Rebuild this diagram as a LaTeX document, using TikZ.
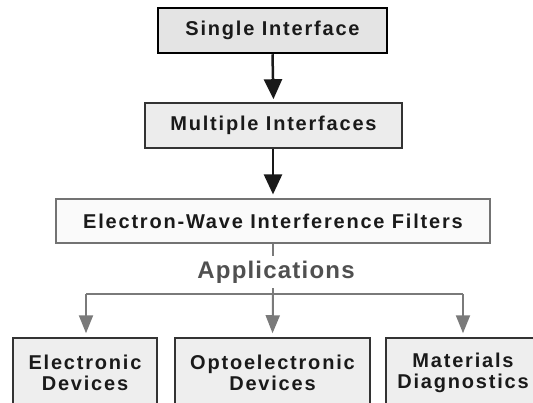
\documentclass[tikz,border=0pt]{standalone}
\usepackage{fontspec}
\setmainfont{Liberation Sans}[LetterSpace=9]
\usetikzlibrary{arrows.meta}
\definecolor{txt}{HTML}{1A1A1A}
\definecolor{boxa}{HTML}{E4E4E4}
\definecolor{boxb}{HTML}{ECECEC}
\definecolor{boxc}{HTML}{FAFAFA}
\definecolor{boxd}{HTML}{EEEEEE}
\definecolor{arrowgray}{HTML}{7A7A7A}
\definecolor{apptext}{HTML}{505050}
\begin{document}
\begin{tikzpicture}[x=1pt,y=-1pt,
  lbl/.style={font=\fontsize{20}{21}\selectfont\bfseries, text=txt, align=center, inner sep=0pt},
  topbox/.style={lbl, draw=black, line width=2.5pt, fill=boxa},
  midbox/.style={lbl, draw=black!80, line width=1.6pt, fill=boxb},
  filtbox/.style={lbl, draw=black!55, line width=1.2pt, fill=boxc},
  appbox/.style={lbl, draw=black!80, line width=1.5pt, fill=boxd, minimum height=70pt},
  darrow/.style={line width=2.5pt, draw=black!90, -{Triangle[width=18pt,length=20pt]}},
  garrow/.style={line width=2pt, draw=arrowgray, -{Triangle[width=14pt,length=18pt]}},
  gline/.style={line width=2pt, draw=arrowgray}]
\useasboundingbox (0,0) rectangle (533,402);
\fill[white] (0,0) rectangle (533,402);
\node[topbox, minimum width=229pt, minimum height=45pt] (single) at (272.5,30.5) {Single Interface};
\node[midbox, minimum width=257pt, minimum height=45pt] (multi) at (273.5,125.5) {Multiple Interfaces};
\node[filtbox, minimum width=434pt, minimum height=44pt] (filt) at (273,221) {Electron-Wave Interference Filters};
\node[font=\fontsize{24}{26}\selectfont\bfseries\addfontfeatures{LetterSpace=5}, text=apptext, inner xsep=0pt, inner ysep=5pt] (app) at (276,272) {Applications};
\node[appbox, minimum width=144pt] (elec) at (85,373) {Electronic\\Devices};
\node[appbox, minimum width=195pt] (opto) at (272.5,373) {Optoelectronic\\Devices};
\node[appbox, minimum width=154pt] (mat) at (463,373) {Materials\\Diagnostics};
\coordinate (hub) at (273,294);
\coordinate (hl) at (86,294);
\coordinate (hr) at (463,294);
\draw[darrow, shorten >=3pt] (single.south) -- (multi.north);
\draw[darrow, shorten >=4pt] (multi.south -| filt.north) -- (filt.north);
\draw[gline] (filt.south) -- (app.north -| filt.south);
\draw[gline] (app.south -| hub) -- (hub);
\draw[gline] (hl) -- (hr);
\draw[garrow, shorten >=4pt] (hl) -- (hl |- elec.north);
\draw[garrow, shorten >=4pt] (hub) -- (opto.north);
\draw[garrow, shorten >=4pt] (hr) -- (hr |- mat.north);
\end{tikzpicture}
\end{document}
